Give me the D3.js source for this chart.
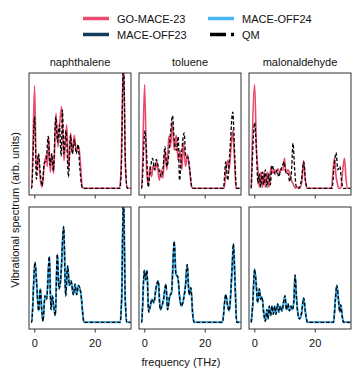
<!DOCTYPE html>
<head>
<meta charset="utf-8">
<title>Vibrational spectra</title>
<style>
  body { margin: 0; background: #fff; }
  svg text { font-family: "Liberation Sans", Arial, Helvetica, sans-serif; fill: #111; }
</style>
</head>
<body>
<svg width="362" height="379"></svg>

<script src="https://d3js.org/d3.v7.min.js"></script>
<script>

// ---- data: [frequency (THz), spectrum (arb. units, panel-normalised)] ----

var molecules = ["naphthalene", "toluene", "malonaldehyde"];
var freqTicks = [0, 20];

// top row: GO-MACE-23 vs QM
var naphGO = [[-1,0],[-0.88,0],[0.11,0.89],[0.66,0.16],[1.33,0.29],[1.88,0.10],[2.54,0.01],[3.32,0.20],[3.98,0.29],
  [4.31,0.19],[4.75,0.45],[5.30,0.14],[5.86,0.29],[6.41,0.13],[7.18,0.65],[7.85,0.36],[8.29,0.52],[9.06,0.71],
  [9.83,0.24],[10.72,0.55],[11.38,0.17],[12.04,0.48],[12.6,0.30],[13.26,0.46],[13.92,0.32],[14.7,0.36],
  [15.14,0.26],[15.9,0.01],[16.4,0],[28.2,0],[28.7,0.16],[29.5,1.12],[30.2,0.16],[30.8,0],[31.8,0]];
var naphQMtop = [[-1,0],[-0.88,0],[0.11,0.62],[0.7,0.08],[1.4,0.30],[2.0,0.13],[2.6,0.02],[3.3,0.22],[3.9,0.24],
  [4.6,0.45],[5.2,0.20],[5.8,0.30],[6.3,0.15],[7.1,0.62],[7.7,0.40],[8.3,0.55],[8.9,0.28],[9.3,0.68],[9.8,0.30],
  [10.5,0.50],[11.3,0.10],[12.0,0.46],[12.6,0.30],[13.2,0.42],[13.9,0.30],[14.5,0.38],[15.0,0.20],[15.8,0.01],
  [16.3,0],[28.3,0],[28.8,0.18],[29.5,1.12],[30.2,0.18],[30.8,0],[31.8,0]];

var toluGO = [[-1,0],[-0.88,0],[0.11,0.90],[0.77,0.16],[1.32,0.03],[1.87,0.19],[2.42,0.10],[2.97,0.20],[3.63,0.16],
  [4.18,0.23],[4.95,0.07],[5.61,0.16],[6.16,0.09],[6.82,0.33],[7.48,0.16],[8.14,0.45],[8.69,0.36],[9.24,0.58],
  [9.9,0.33],[10.56,0.46],[11.22,0.24],[11.88,0.33],[12.43,0.16],[12.98,0.40],[13.64,0.19],[14.3,0.29],
  [14.85,0.19],[15.73,0.01],[16.2,0],[26.4,0],[27.17,0.19],[27.61,0.24],[28.05,0.16],[28.71,0.36],[29.26,0.50],
  [29.81,0.27],[30.36,0],[31.8,0]];
var toluQMtop = [[-1,0],[-0.88,0],[0.22,0.50],[0.77,0.30],[1.32,0.01],[1.98,0.16],[2.75,0.26],[3.41,0.16],[3.96,0.25],
  [4.62,0.19],[5.17,0.13],[5.72,0.10],[6.27,0.19],[6.82,0.36],[7.48,0.19],[8.14,0.30],[8.69,0.48],[9.35,0.63],
  [9.9,0.42],[10.67,0.33],[11.22,0.45],[11.66,0.07],[12.32,0.30],[13.2,0.48],[13.75,0.27],[14.41,0.27],
  [15.07,0.16],[15.73,0.01],[16.2,0],[26.2,0],[26.95,0.23],[27.61,0.07],[28.27,0.30],[29.26,0.66],[30.03,0.22],
  [30.47,0],[31.8,0]];

var malonGO = [[-1,0],[0.11,0.90],[0.77,0.30],[1.22,0.16],[1.66,0.01],[2.21,0.14],[2.65,0.01],[3.2,0.14],[3.65,0.01],
  [4.31,0.14],[4.86,0.01],[5.53,0.19],[6.08,0.13],[6.74,0.16],[7.29,0.13],[7.85,0.17],[8.4,0.14],[8.95,0.16],
  [9.5,0.16],[9.95,0.26],[10.5,0.13],[11.05,0.16],[11.71,0.13],[12.27,0.07],[12.82,0.04],[13.59,0],[14.25,0.01],
  [15.03,0],[15.8,0.07],[16.35,0.24],[16.91,0.07],[17.46,0],[25.53,0],[26.08,0.16],[26.52,0.26],[27.07,0.10],
  [27.52,0.04],[27.85,0],[28.62,0],[29.28,0.16],[29.84,0.26],[30.39,0.07],[30.94,0],[31.8,0]];
var malonQMtop = [[-1,0],[-0.55,0.30],[0.11,0.57],[0.66,0.36],[1.22,0.04],[1.66,0.13],[2.1,0.01],[2.65,0.14],
  [3.09,0.03],[3.65,0.16],[4.2,0.01],[4.75,0.13],[5.3,0.03],[5.86,0.20],[6.41,0.16],[6.96,0.12],[7.51,0.16],
  [8.07,0.10],[8.73,0.16],[9.28,0.19],[9.83,0.23],[10.5,0.13],[11.16,0.13],[11.71,0.06],[12.27,0.13],[12.82,0.39],
  [13.37,0.16],[13.92,0.01],[14.7,0],[15.58,0.07],[16.35,0.23],[16.91,0.07],[17.57,0],[25.75,0],[26.41,0.19],
  [27.07,0.31],[27.63,0.16],[28.29,0.19],[28.84,0.07],[29.39,0],[31.8,0]];

// bottom row: MACE-OFF23 / MACE-OFF24 trace QM almost exactly, one line read for all three
var naphBottom = [[-1,0],[-0.88,0],[0.22,0.52],[0.77,0.34],[1.44,0.10],[1.99,0.29],[2.43,0.12],[2.87,0.01],
  [3.54,0.23],[4.09,0.20],[4.97,0.57],[5.53,0.11],[5.97,0.23],[6.41,0.14],[6.96,0.06],[7.62,0.59],[8.18,0.29],
  [8.73,0.37],[9.72,0.83],[10.39,0.23],[11.05,0.49],[11.6,0.32],[12.16,0.36],[12.93,0.24],[13.48,0.33],
  [14.03,0.24],[14.59,0.32],[15.36,0.26],[16.46,0],[28.4,0],[28.9,0.2],[29.5,1.1],[30.1,0.2],[30.6,0],[31.8,0]];
var toluBottom = [[-1,0],[-0.88,0],[0,0.45],[0.44,0.37],[0.88,0.45],[1.43,0.09],[1.98,0.14],[2.53,0.20],[3.19,0.17],
  [3.85,0.29],[4.62,0.36],[5.28,0.11],[5.83,0.14],[6.38,0.20],[7.15,0.33],[7.7,0.11],[8.36,0.22],[9.02,0.26],
  [9.9,0.70],[10.45,0.42],[11.11,0.39],[11.77,0.20],[12.32,0.14],[12.98,0.20],[13.64,0.32],[14.19,0.50],
  [14.85,0.24],[15.4,0.30],[16.06,0.06],[16.5,0],[25.85,0],[26.95,0.24],[27.61,0.14],[28.05,0.10],[29.15,0.52],
  [29.48,0.68],[30.03,0.34],[30.58,0],[31.8,0]];
var malonBottom = [[-1,0],[-0.55,0.14],[0.11,0.46],[0.66,0.32],[1.1,0.17],[1.66,0.29],[2.1,0.20],[2.54,0.22],
  [3.09,0.09],[3.65,0.01],[4.2,0.11],[4.53,0.03],[4.97,0.14],[5.41,0.06],[5.86,0.14],[6.3,0.07],[6.74,0.14],
  [7.18,0.07],[7.74,0.16],[8.18,0.09],[8.62,0.14],[9.17,0.10],[9.61,0.16],[10.17,0.23],[10.61,0.11],[11.16,0.16],
  [11.6,0.10],[12.16,0.14],[12.6,0.11],[13.15,0.20],[13.48,0.41],[13.92,0.23],[14.36,0.09],[14.92,0.03],
  [15.58,0.07],[16.35,0.21],[16.91,0.09],[17.57,0],[26.19,0],[26.85,0.20],[27.3,0.32],[27.85,0.20],[28.29,0.09],
  [28.62,0.15],[29.06,0.06],[29.5,0],[31.8,0]];

var colors = { GO: "#e94a6d", OFF23: "#123d61", OFF24: "#48b6f2", QM: "#000" };

var topRow = [
  { GO: naphGO, QM: naphQMtop },
  { GO: toluGO, QM: toluQMtop },
  { GO: malonGO, QM: malonQMtop }
];
var bottomRow = [naphBottom, toluBottom, malonBottom];

// ---- layout ----
var svg = d3.select("svg");
var panelLeft = [29, 139, 249],
    panelTop = [73, 207],
    pw = 102, ph = 122;

var x = d3.scaleLinear().domain([-1.75, 32]).range([0, pw]),
    y = d3.scaleLinear().domain([-0.058, 1]).range([ph, 0]);

var line = d3.line()
    .x(function(d) { return x(d[0]); })
    .y(function(d) { return y(d[1]); })
    .curve(d3.curveMonotoneX);

svg.append("defs").append("clipPath").attr("id", "clip")
  .append("rect").attr("width", pw).attr("height", ph);

function drawPanel(col, row) {
  var g = svg.append("g")
      .attr("transform", "translate(" + panelLeft[col] + "," + panelTop[row] + ")");
  var plot = g.append("g").attr("clip-path", "url(#clip)");

  if (row === 0) {
    plot.append("path").attr("d", line(topRow[col].GO))
        .attr("fill", "none").attr("stroke", colors.GO).attr("stroke-width", 1.6);
    plot.append("path").attr("d", line(topRow[col].QM))
        .attr("fill", "none").attr("stroke", colors.QM).attr("stroke-width", 1.3)
        .attr("stroke-dasharray", "3.5,2");
  } else {
    var d = bottomRow[col];
    plot.append("path").attr("d", line(d))
        .attr("fill", "none").attr("stroke", colors.OFF23).attr("stroke-width", 1.4);
    plot.append("path").attr("d", line(d))
        .attr("fill", "none").attr("stroke", colors.OFF24).attr("stroke-width", 2);
    plot.append("path").attr("d", line(d))
        .attr("fill", "none").attr("stroke", colors.QM).attr("stroke-width", 1.3)
        .attr("stroke-dasharray", "3.5,2");
  }

  // x axis: ticks on both rows, labels only at the bottom
  var axis = g.append("g")
      .attr("transform", "translate(0," + ph + ")")
      .call(d3.axisBottom(x).tickValues(freqTicks).tickSize(3.5).tickPadding(7)
        .tickFormat(row === 1 ? d3.format("d") : ""));
  axis.select(".domain").remove();
  axis.selectAll("line").attr("stroke", "#222").attr("stroke-width", 0.9);
  axis.selectAll("text").style("font-size", "11px")
      .style("font-family", "'Liberation Sans', Arial, sans-serif").attr("fill", "#111");

  g.append("rect").attr("width", pw).attr("height", ph)
      .attr("fill", "none").attr("stroke", "#333").attr("stroke-width", 1);

  if (row === 0) {
    g.append("text").attr("x", pw / 2).attr("y", -7)
        .attr("text-anchor", "middle").style("font-size", "11px")
        .text(molecules[col]);
  }
}

[0, 1].forEach(function(r) { [0, 1, 2].forEach(function(c) { drawPanel(c, r); }); });

// axis labels
svg.append("text").attr("x", 181).attr("y", 366)
    .attr("text-anchor", "middle").style("font-size", "11px")
    .text("frequency (THz)");
svg.append("text")
    .attr("transform", "translate(19,210) rotate(-90)")
    .attr("text-anchor", "middle").style("font-size", "11px")
    .text("Vibrational spectrum (arb. units)");

// legend
var legend = [
  { name: "GO-MACE-23", color: colors.GO, x: 83, y: 18.5 },
  { name: "MACE-OFF23", color: colors.OFF23, x: 83, y: 34.5 },
  { name: "MACE-OFF24", color: colors.OFF24, x: 208, y: 18.5 },
  { name: "QM", color: colors.QM, x: 208, y: 34.5, dash: true }
];
var lg = svg.append("g").selectAll("g").data(legend).enter().append("g")
    .attr("transform", function(d) { return "translate(" + d.x + "," + d.y + ")"; });
lg.append("line").attr("x1", function(d) { return d.dash ? 2 : 0; }).attr("x2", 26)
    .attr("stroke", function(d) { return d.color; })
    .attr("stroke-width", 3.5)
    .attr("stroke-dasharray", function(d) { return d.dash ? "16,5" : null; });
lg.append("text").attr("x", 34).attr("y", 4)
    .style("font-size", "11px")
    .text(function(d) { return d.name; });

</script>
</body>
